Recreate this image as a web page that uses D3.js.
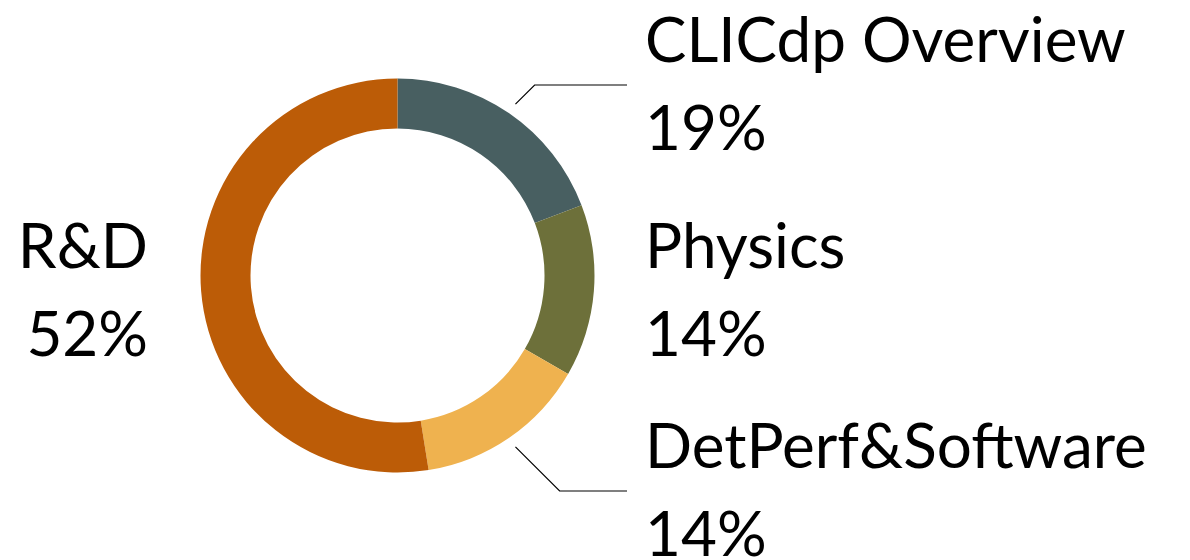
<!DOCTYPE html>
<html>
<head>
<meta charset="utf-8">
<script src="https://cdn.jsdelivr.net/npm/d3@7"></script>
<style>
  html, body { margin: 0; padding: 0; background: #fff; }
  svg text { font-family: Lato, "Noto Sans", sans-serif; fill: #000; }
</style>
</head>
<body>
<div id="chart_div"></div>
<script>
// data
var categories = ['CLICdp Overview', 'Physics', 'DetPerf&Software', 'R&D'];
var values     = [19, 14, 14, 52];
var pctLabels  = ['19%', '14%', '14%', '52%'];
var colors     = ['#485f61', '#6d703a', '#efb24f', '#bc5c07'];

const width = 1190, height = 560;
const cx = 397.5, cy = 275.5;
const outerR = 197, innerR = 147;

// label placement: [x, first baseline, anchor, leader?]
var labelPos = [
  {x: 645, y: 62,  anchor: 'start', leader: true},
  {x: 645, y: 268, anchor: 'start', leader: false},
  {x: 645, y: 468, anchor: 'start', leader: true},
  {x: 148, y: 268, anchor: 'end',   leader: false}
];

var svg = d3.select('#chart_div').append('svg')
    .attr('width', width)
    .attr('height', height);

var pie = d3.pie().sort(null).value(function(d){ return d; });
var arcs = pie(values);

var arc = d3.arc()
    .innerRadius(innerR)
    .outerRadius(outerR);

var g = svg.append('g')
    .attr('transform', `translate(${cx}, ${cy})`);

g.selectAll('path.slice')
  .data(arcs)
  .enter()
  .append('path')
  .attr('class', 'slice')
  .attr('fill', function(d, i){ return colors[i]; })
  .attr('d', arc);

// leader lines: start just outside ring on the mid angle, go out at 45deg
// until the label's underline height, then run horizontally to the label
function polar(a, r){ return [Math.sin(a) * r, -Math.cos(a) * r]; }

arcs.forEach(function(d, i){
  var lp = labelPos[i];
  if (!lp.leader) return;
  var mid = (d.startAngle + d.endAngle) / 2;
  var p0 = polar(mid, 208);
  var lineY = lp.y + 23 - cy;
  var p1 = [p0[0] + Math.abs(lineY - p0[1]), lineY];
  var p2 = [lp.x - 18 - cx, lineY];
  g.append('path')
    .attr('fill', 'none')
    .attr('stroke', '#000')
    .attr('stroke-width', 1.2)
    .attr('d', d3.line()([p0, p1, p2]));
});

var labels = svg.selectAll('text.lbl')
  .data(categories)
  .enter()
  .append('text')
  .attr('class', 'lbl')
  .attr('x', function(d, i){ return labelPos[i].x; })
  .attr('y', function(d, i){ return labelPos[i].y; })
  .attr('text-anchor', function(d, i){ return labelPos[i].anchor; })
  .style('font-size', '62px');

labels.append('tspan')
  .text(function(d){ return d; });

labels.append('tspan')
  .attr('x', function(d, i){ return labelPos[i].x; })
  .attr('dy', 88)
  .text(function(d, i){ return pctLabels[i]; });
</script>
</body>
</html>
